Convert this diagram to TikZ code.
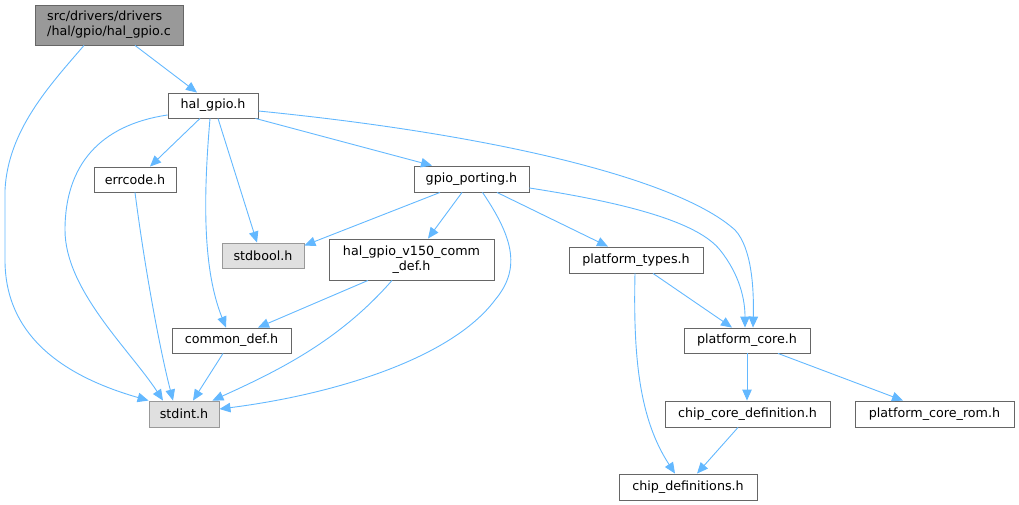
\documentclass[tikz,border=0pt]{standalone}
\usepackage{fontspec}
\setmainfont{DejaVu Sans}
\usetikzlibrary{arrows.meta}
\definecolor{edgec}{HTML}{63B8FF}
\definecolor{bord}{HTML}{666666}
\definecolor{lbord}{HTML}{999999}
\definecolor{lfill}{HTML}{E0E0E0}
\definecolor{rootfill}{HTML}{999999}
\newcommand{\dfont}{\fontsize{12.7pt}{15pt}\selectfont}
\tikzset{
  box/.style n args={2}{draw=bord, line width=0.9pt, fill=white, minimum width=#1, minimum height=#2, inner sep=0pt, font=\dfont, text=black},
  sysbox/.style n args={2}{box={#1}{#2}, draw=lbord, fill=lfill},
  rootbox/.style n args={2}{box={#1}{#2}, fill=rootfill},
  dep/.style={draw=edgec, line width=0.9pt, -{Triangle[length=11pt,width=9.5pt]}}
}
\begin{document}
\begin{tikzpicture}[x=1pt,y=-1pt]
\useasboundingbox (0,0) rectangle (1019,505);
% nodes
\node[rootbox={148pt}{40pt}, align=left] (root) at (109,25) {src/drivers/drivers\\/hal/gpio/hal\_gpio.c};
\node[box={90pt}{25pt}] (hgh) at (213,105.5) {hal\_gpio.h};
\node[box={82pt}{25pt}] (err) at (135,179.5) {errcode.h};
\node[sysbox={82pt}{25pt}] (sbool) at (263,255.5) {stdbool.h};
\node[box={115pt}{26pt}] (gp) at (471.5,179) {gpio\_porting.h};
\node[box={165pt}{41pt}, align=center] (v150) at (411.5,259.5) {hal\_gpio\_v150\_comm\\\_def.h};
\node[box={134pt}{26pt}] (ptypes) at (636,260) {platform\_types.h};
\node[box={119pt}{25pt}] (cdef) at (231.5,340.5) {common\_def.h};
\node[sysbox={70pt}{26pt}] (sint) at (184,414) {stdint.h};
\node[box={126pt}{25pt}] (pcore) at (747,340.5) {platform\_core.h};
\node[box={165pt}{26pt}] (ccd) at (747.5,414) {chip\_core\_definition.h};
\node[box={159pt}{26pt}] (pcr) at (934.5,414) {platform\_core\_rom.h};
\node[box={138pt}{26pt}] (cdefs) at (688,487) {chip\_definitions.h};
% edges
\draw[dep] ([xshift=26pt]root.south) -- ([xshift=-16pt]hgh.north);
\draw[dep] ([xshift=-25pt]root.south) .. controls (50,85) and (8,130) .. (5,190) -- (5,260) .. controls (5,340) and (70,378) .. (sint.north west);
\draw[dep] ([xshift=-13pt]hgh.south) -- ([xshift=15pt]err.north);
\draw[dep] ([yshift=-9.5pt]hgh.west) .. controls (100,125) and (65,165) .. (65,230) .. controls (65,290) and (130,350) .. ([xshift=-21pt]sint.north);
\draw[dep] ([xshift=-3pt]hgh.south) .. controls (203,200) and (203,270) .. ([xshift=-5.5pt]cdef.north);
\draw[dep] ([xshift=5pt]hgh.south) -- ([xshift=-6pt]sbool.north);
\draw[dep] ([xshift=-3pt]hgh.south east) -- ([xshift=-39.5pt]gp.north);
\draw[dep] ([yshift=-5.5pt]hgh.east) .. controls (500,135) and (680,180) .. (735,230) .. controls (752,248) and (754,290) .. ([xshift=6pt]pcore.north);
\draw[dep] (err.south) .. controls (145,270) and (160,350) .. ([xshift=-11pt]sint.north);
\draw[dep] ([xshift=-31.5pt]gp.south) -- ([yshift=10pt]sbool.east);
\draw[dep] ([xshift=-9.5pt]gp.south) -- ([xshift=16.5pt]v150.north);
\draw[dep] ([xshift=11pt]gp.south) .. controls (515,240) and (520,270) .. (495,300) .. controls (450,360) and (330,395) .. ([yshift=5pt]sint.east);
\draw[dep] ([xshift=25.5pt]gp.south) -- ([xshift=-28pt]ptypes.north);
\draw[dep] ([yshift=-9pt]gp.east) .. controls (640,205) and (700,225) .. (720,250) .. controls (740,275) and (745,300) .. ([xshift=-2pt]pcore.north);
\draw[dep] ([xshift=-43.5pt]v150.south) -- ([xshift=26.5pt]cdef.north);
\draw[dep] ([xshift=-19.5pt]v150.south) .. controls (340,340) and (280,370) .. ([xshift=-7pt]sint.north east);
\draw[dep] ([xshift=-8.5pt]cdef.south) -- ([xshift=9pt]sint.north);
\draw[dep] ([xshift=17pt]ptypes.south) -- ([xshift=-15pt]pcore.north);
\draw[dep] ([xshift=-1pt]ptypes.south) .. controls (633,360) and (640,420) .. ([xshift=-13pt]cdefs.north);
\draw[dep] (pcore.south) -- (pcore.south |- ccd.north);
\draw[dep] ([xshift=31pt]pcore.south) -- ([xshift=-31.5pt]pcr.north);
\draw[dep] ([xshift=-9.5pt]ccd.south) -- ([xshift=9pt]cdefs.north);
\end{tikzpicture}
\end{document}
